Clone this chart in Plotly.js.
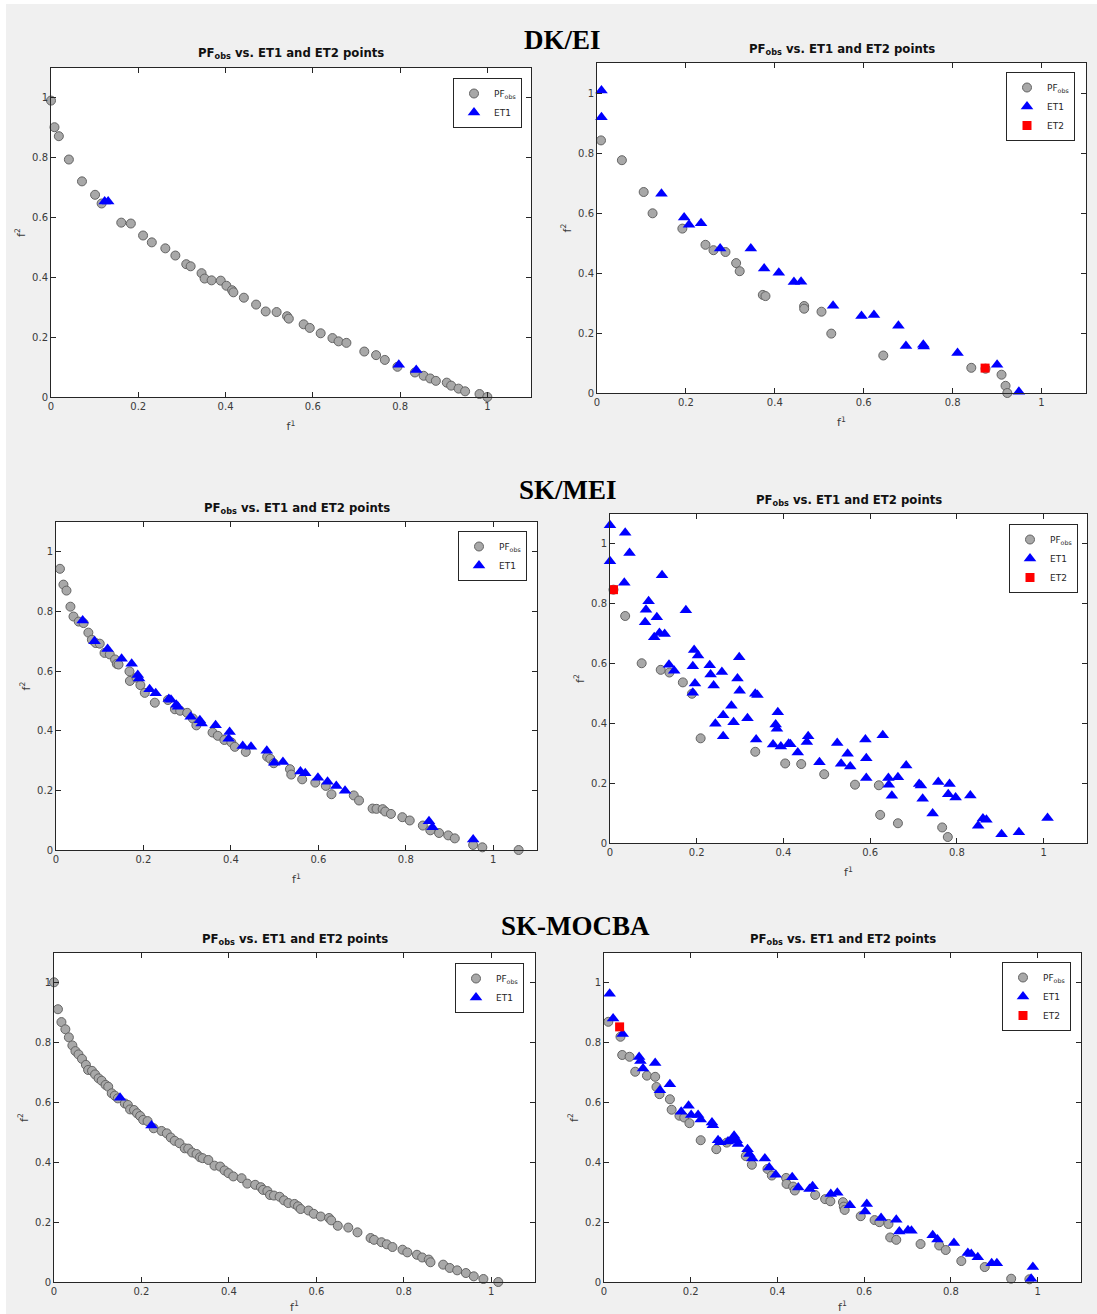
<!DOCTYPE html>
<html>
<head>
<meta charset="utf-8">
<script src="https://cdn.plot.ly/plotly-3.0.1.min.js"></script>
<style>
  html, body { margin: 0; padding: 0; background: #ffffff; }
  #chart { width: 1097px; height: 1314px; }
</style>
</head>
<body>
<div id="chart"></div>
<script>
// ---------- Data ----------
const rowTitles = ["DK/EI", "SK/MEI", "SK-MOCBA"];
const panelTitle = "PF<sub>obs</sub> vs. ET1 and ET2 points";
const tickVals = [0, 0.2, 0.4, 0.6, 0.8, 1];
const tickText = ["0", "0.2", "0.4", "0.6", "0.8", "1"];

// Panel 1: DK/EI left
const p1PfX = [0,0.008,0.018,0.041,0.071,0.101,0.116,0.161,0.183,0.211,0.231,0.262,0.285,0.310,0.320,0.345,0.352,0.368,0.389,0.402,0.415,0.418,0.442,0.470,0.492,0.517,0.541,0.545,0.579,0.593,0.618,0.645,0.659,0.677,0.718,0.745,0.765,0.794,0.834,0.854,0.869,0.882,0.907,0.917,0.934,0.949,0.982,1.0];
const p1PfY = [0.991,0.902,0.872,0.794,0.721,0.676,0.647,0.583,0.580,0.540,0.517,0.497,0.473,0.444,0.437,0.414,0.396,0.390,0.389,0.372,0.357,0.350,0.332,0.309,0.286,0.284,0.270,0.262,0.243,0.231,0.213,0.197,0.186,0.181,0.152,0.140,0.124,0.101,0.082,0.071,0.062,0.054,0.048,0.038,0.028,0.019,0.010,0.0];
const p1Et1X = [0.123,0.131,0.797,0.837];
const p1Et1Y = [0.654,0.654,0.108,0.090];

// Panel 2: DK/EI right
const p2PfX = [0.009,0.056,0.105,0.125,0.192,0.244,0.262,0.289,0.313,0.321,0.373,0.379,0.466,0.466,0.505,0.527,0.644,0.842,0.874,0.910,0.919,0.923];
const p2PfY = [0.842,0.776,0.670,0.599,0.548,0.494,0.476,0.470,0.433,0.406,0.327,0.323,0.290,0.281,0.271,0.198,0.125,0.084,0.081,0.061,0.024,0.0];
const p2Et1X = [0.010,0.010,0.145,0.196,0.207,0.234,0.277,0.346,0.376,0.409,0.443,0.459,0.531,0.595,0.623,0.678,0.695,0.734,0.735,0.811,0.900,0.949];
const p2Et1Y = [1.008,0.919,0.664,0.585,0.561,0.566,0.482,0.482,0.415,0.401,0.370,0.371,0.291,0.257,0.260,0.224,0.157,0.161,0.155,0.133,0.094,0.004];
const p2Et2X = [0.873];
const p2Et2Y = [0.083];

// Panel 3: SK/MEI left
const p3PfX = [0.009,0.017,0.024,0.033,0.040,0.052,0.063,0.074,0.082,0.091,0.100,0.111,0.123,0.135,0.139,0.143,0.168,0.169,0.184,0.193,0.203,0.226,0.256,0.272,0.284,0.300,0.313,0.321,0.358,0.370,0.385,0.401,0.409,0.434,0.483,0.490,0.498,0.535,0.538,0.563,0.593,0.617,0.630,0.681,0.693,0.724,0.733,0.747,0.753,0.766,0.792,0.809,0.839,0.856,0.876,0.897,0.912,0.954,0.975,1.058];
const p3PfY = [0.943,0.890,0.870,0.816,0.783,0.766,0.761,0.729,0.705,0.694,0.692,0.661,0.656,0.639,0.624,0.622,0.599,0.567,0.578,0.553,0.527,0.494,0.503,0.472,0.467,0.460,0.441,0.418,0.394,0.383,0.369,0.361,0.346,0.329,0.313,0.306,0.291,0.271,0.253,0.237,0.226,0.215,0.187,0.183,0.166,0.139,0.138,0.137,0.129,0.121,0.110,0.099,0.082,0.066,0.057,0.049,0.039,0.017,0.009,0.0];
const p3Et1X = [0.061,0.088,0.118,0.150,0.173,0.187,0.190,0.214,0.228,0.258,0.263,0.275,0.279,0.308,0.329,0.333,0.365,0.397,0.395,0.427,0.446,0.482,0.499,0.519,0.559,0.570,0.599,0.621,0.641,0.661,0.853,0.861,0.954];
const p3Et1Y = [0.770,0.700,0.674,0.641,0.625,0.587,0.575,0.539,0.526,0.506,0.504,0.487,0.480,0.447,0.435,0.424,0.418,0.396,0.373,0.349,0.346,0.333,0.293,0.295,0.263,0.257,0.242,0.229,0.215,0.199,0.096,0.076,0.035];

// Panel 4: SK/MEI right
const p4PfX = [0.008,0.035,0.073,0.117,0.137,0.168,0.189,0.209,0.335,0.404,0.441,0.494,0.565,0.620,0.623,0.664,0.766,0.779];
const p4PfY = [0.847,0.759,0.601,0.579,0.570,0.537,0.499,0.350,0.305,0.266,0.264,0.230,0.195,0.193,0.094,0.066,0.052,0.020];
const p4Et1X = [0.0,0.035,0.045,0.0,0.033,0.120,0.089,0.083,0.108,0.081,0.175,0.114,0.126,0.102,0.194,0.203,0.298,0.136,0.148,0.191,0.230,0.232,0.258,0.196,0.239,0.294,0.299,0.191,0.335,0.340,0.280,0.261,0.243,0.285,0.317,0.387,0.382,0.385,0.261,0.337,0.376,0.394,0.412,0.416,0.457,0.454,0.433,0.483,0.524,0.548,0.533,0.554,0.589,0.591,0.629,0.591,0.642,0.643,0.664,0.683,0.650,0.713,0.717,0.721,0.757,0.783,0.780,0.797,0.831,0.744,0.860,0.868,0.849,0.903,0.943,1.009];
const p4Et1Y = [1.062,1.037,0.970,0.942,0.870,0.895,0.808,0.780,0.755,0.738,0.778,0.702,0.699,0.688,0.645,0.627,0.621,0.596,0.576,0.591,0.594,0.563,0.572,0.533,0.527,0.550,0.509,0.502,0.499,0.495,0.459,0.427,0.399,0.404,0.417,0.437,0.396,0.382,0.357,0.346,0.329,0.323,0.332,0.330,0.357,0.338,0.303,0.270,0.334,0.298,0.265,0.256,0.346,0.283,0.360,0.217,0.217,0.195,0.220,0.259,0.158,0.197,0.192,0.148,0.204,0.197,0.163,0.152,0.159,0.099,0.082,0.078,0.058,0.029,0.036,0.084];
const p4Et2X = [0.008];
const p4Et2Y = [0.847];

// Panel 5: SK-MOCBA left
const p5PfX = [0.0,0.009,0.017,0.026,0.034,0.042,0.049,0.056,0.064,0.073,0.078,0.087,0.094,0.102,0.109,0.118,0.124,0.132,0.139,0.146,0.162,0.169,0.174,0.183,0.190,0.197,0.204,0.214,0.228,0.246,0.258,0.267,0.276,0.287,0.299,0.307,0.316,0.326,0.334,0.340,0.353,0.367,0.380,0.390,0.399,0.410,0.429,0.442,0.460,0.473,0.478,0.488,0.494,0.503,0.516,0.526,0.536,0.550,0.558,0.564,0.582,0.594,0.610,0.629,0.634,0.649,0.673,0.694,0.724,0.732,0.749,0.761,0.774,0.797,0.808,0.830,0.842,0.857,0.861,0.890,0.905,0.922,0.942,0.960,0.982,1.016];
const p5PfY = [1.002,0.912,0.869,0.845,0.818,0.791,0.772,0.761,0.746,0.726,0.709,0.706,0.694,0.681,0.673,0.659,0.653,0.631,0.623,0.614,0.597,0.592,0.577,0.575,0.564,0.555,0.542,0.538,0.514,0.505,0.497,0.483,0.472,0.464,0.447,0.446,0.433,0.428,0.417,0.414,0.408,0.389,0.386,0.373,0.364,0.353,0.347,0.329,0.325,0.317,0.308,0.304,0.291,0.289,0.285,0.273,0.264,0.261,0.253,0.244,0.239,0.228,0.219,0.214,0.206,0.188,0.182,0.166,0.147,0.141,0.133,0.126,0.117,0.108,0.099,0.091,0.082,0.075,0.066,0.058,0.047,0.039,0.030,0.019,0.010,0.0];
const p5Et1X = [0.151,0.223];
const p5Et1Y = [0.616,0.523];

// Panel 6: SK-MOCBA right
const p6PfX = [0.010,0.038,0.042,0.059,0.072,0.099,0.118,0.121,0.128,0.152,0.156,0.174,0.185,0.197,0.223,0.259,0.283,0.327,0.341,0.377,0.387,0.420,0.421,0.436,0.440,0.487,0.510,0.522,0.551,0.553,0.555,0.592,0.624,0.635,0.656,0.660,0.674,0.730,0.773,0.788,0.824,0.878,0.939,0.981];
const p6PfY = [0.870,0.820,0.759,0.753,0.703,0.690,0.686,0.652,0.628,0.611,0.576,0.556,0.550,0.531,0.474,0.444,0.466,0.421,0.392,0.378,0.356,0.348,0.328,0.319,0.306,0.291,0.277,0.270,0.267,0.252,0.241,0.220,0.207,0.200,0.194,0.149,0.141,0.127,0.122,0.107,0.070,0.050,0.011,0.009];
const p6Et1X = [0.013,0.021,0.043,0.081,0.084,0.090,0.118,0.129,0.152,0.178,0.195,0.201,0.217,0.223,0.249,0.251,0.263,0.268,0.286,0.300,0.298,0.306,0.309,0.331,0.335,0.342,0.371,0.381,0.396,0.434,0.448,0.474,0.481,0.523,0.538,0.567,0.606,0.602,0.639,0.674,0.681,0.701,0.709,0.758,0.769,0.807,0.839,0.847,0.862,0.894,0.906,0.989,0.985];
const p6Et1Y = [0.964,0.881,0.829,0.752,0.739,0.714,0.732,0.641,0.661,0.569,0.589,0.558,0.558,0.543,0.533,0.524,0.474,0.467,0.470,0.489,0.480,0.474,0.461,0.444,0.428,0.413,0.413,0.383,0.359,0.350,0.316,0.311,0.320,0.294,0.298,0.257,0.261,0.236,0.214,0.208,0.169,0.173,0.171,0.156,0.142,0.130,0.097,0.094,0.083,0.063,0.063,0.050,0.011];
const p6Et2X = [0.036];
const p6Et2Y = [0.853];

// ---------- Styling / layout helpers ----------
const W = 1097, H = 1314;
const px = v => v / W;
const py = v => 1 - v / H;

const panels = [
  {pfX: p1PfX, pfY: p1PfY, e1X: p1Et1X, e1Y: p1Et1Y, e2X: null, e2Y: null,
   box: [51, 531, 68, 397], legend: [522, 78]},
  {pfX: p2PfX, pfY: p2PfY, e1X: p2Et1X, e1Y: p2Et1Y, e2X: p2Et2X, e2Y: p2Et2Y,
   box: [597, 1086, 63, 393], legend: [1075, 72]},
  {pfX: p3PfX, pfY: p3PfY, e1X: p3Et1X, e1Y: p3Et1Y, e2X: null, e2Y: null,
   box: [56, 537, 522, 850], legend: [527, 531]},
  {pfX: p4PfX, pfY: p4PfY, e1X: p4Et1X, e1Y: p4Et1Y, e2X: p4Et2X, e2Y: p4Et2Y,
   box: [610, 1087, 514, 843], legend: [1078, 524]},
  {pfX: p5PfX, pfY: p5PfY, e1X: p5Et1X, e1Y: p5Et1Y, e2X: null, e2Y: null,
   box: [54, 535, 953, 1282], legend: [524, 963]},
  {pfX: p6PfX, pfY: p6PfY, e1X: p6Et1X, e1Y: p6Et1Y, e2X: p6Et2X, e2Y: p6Et2Y,
   box: [604, 1081, 953, 1282], legend: [1071, 962]}
];

const axisColor = '#262626';
const tickFont = {family: 'DejaVu Sans, sans-serif', size: 10, color: '#3a3a3a'};
const labelFont = {family: 'DejaVu Sans, sans-serif', size: 11, color: '#3a3a3a'};

const traces = [];
const layout = {
  width: W, height: H,
  margin: {l: 0, r: 0, t: 0, b: 0},
  paper_bgcolor: '#f0f0f0',
  plot_bgcolor: '#ffffff',
  showlegend: true,
  annotations: [],
  shapes: [
    {type: 'rect', xref: 'paper', yref: 'paper', x0: 0, x1: 1, y0: py(4), y1: 1,
     fillcolor: '#ffffff', line: {width: 0}, layer: 'below'},
    {type: 'rect', xref: 'paper', yref: 'paper', x0: 0, x1: px(6), y0: 0, y1: 1,
     fillcolor: '#ffffff', line: {width: 0}, layer: 'below'}
  ]
};

panels.forEach((p, i) => {
  const n = i + 1;
  const xa = 'xaxis' + (n === 1 ? '' : n);
  const ya = 'yaxis' + (n === 1 ? '' : n);
  const xr = 'x' + (n === 1 ? '' : n);
  const yr = 'y' + (n === 1 ? '' : n);
  const lg = 'legend' + (n === 1 ? '' : n);
  const [l, r, t, b] = p.box;

  const axisCommon = {
    range: [0, 1.1], tickvals: tickVals, ticktext: tickText,
    showgrid: false, zeroline: false, showline: true, mirror: 'ticks',
    linecolor: axisColor, linewidth: 1, ticks: 'inside', ticklen: 5,
    tickcolor: axisColor, tickwidth: 1, tickfont: tickFont, fixedrange: true
  };
  layout[xa] = Object.assign({}, axisCommon, {
    domain: [px(l), px(r)], anchor: yr,
    title: {text: 'f<sup>1</sup>', font: labelFont, standoff: 11}
  });
  layout[ya] = Object.assign({}, axisCommon, {
    domain: [py(b), py(t)], anchor: xr,
    title: {text: 'f<sup>2</sup>', font: labelFont, standoff: 4}
  });

  layout[lg] = {
    x: px(p.legend[0]), y: py(p.legend[1]), xanchor: 'right', yanchor: 'top',
    xref: 'paper', yref: 'paper',
    bgcolor: '#ffffff', bordercolor: axisColor, borderwidth: 1,
    font: {family: 'DejaVu Sans, sans-serif', size: 9, color: '#262626'},
    itemwidth: 30, tracegroupgap: 0
  };

  traces.push({
    type: 'scatter', mode: 'markers', x: p.pfX, y: p.pfY, xaxis: xr, yaxis: yr,
    name: 'PF<sub>obs</sub>', legend: lg, cliponaxis: false,
    marker: {symbol: 'circle', size: 9, color: '#a8a8a8', line: {color: '#646464', width: 1}}
  });
  traces.push({
    type: 'scatter', mode: 'markers', x: p.e1X, y: p.e1Y, xaxis: xr, yaxis: yr,
    name: 'ET1', legend: lg, cliponaxis: false,
    marker: {symbol: 'triangle-up', size: 11, color: '#0000ff', line: {color: '#0000ff', width: 0}}
  });
  if (p.e2X) {
    traces.push({
      type: 'scatter', mode: 'markers', x: p.e2X, y: p.e2Y, xaxis: xr, yaxis: yr,
      name: 'ET2', legend: lg, cliponaxis: false,
      marker: {symbol: 'square', size: 9, color: '#ff0000', line: {color: '#ff0000', width: 0}}
    });
  }

  // panel title
  layout.annotations.push({
    xref: 'paper', yref: 'paper', x: px((l + r) / 2), y: py(t - 14),
    xanchor: 'center', yanchor: 'middle', showarrow: false,
    text: '<b>' + panelTitle + '</b>',
    font: {family: 'DejaVu Sans, sans-serif', size: 11.7, color: '#111111'}
  });
});

// row titles
const rowTitlePos = [[562, 40], [568, 490], [575, 926]];
rowTitles.forEach((txt, i) => {
  layout.annotations.push({
    xref: 'paper', yref: 'paper', x: px(rowTitlePos[i][0]), y: py(rowTitlePos[i][1]),
    xanchor: 'center', yanchor: 'middle', showarrow: false,
    text: '<b>' + txt + '</b>',
    font: {family: 'Liberation Serif, Times New Roman, serif', size: 27, color: '#000000'}
  });
});

Plotly.newPlot('chart', traces, layout, {displayModeBar: false, staticPlot: true});
</script>
</body>
</html>
